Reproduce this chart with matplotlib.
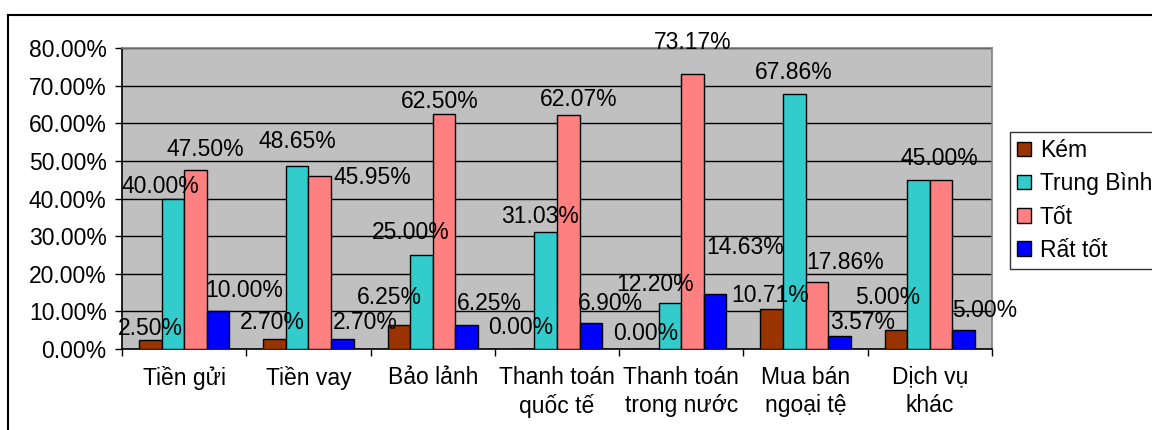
import matplotlib.pyplot as plt
from matplotlib.lines import Line2D
import numpy as np

plt.rcParams['font.family'] = ['Liberation Sans', 'DejaVu Sans']

# Service categories and rating shares (percent)
categories = ['Tiền gửi', 'Tiền vay', 'Bảo lảnh', 'Thanh toán\nquốc tế',
              'Thanh toán\ntrong nước', 'Mua bán\nngoại tệ', 'Dịch vụ\nkhác']
series_names = ['Kém', 'Trung Bình', 'Tốt', 'Rất tốt']
kem = [2.50, 2.70, 6.25, 0.00, 0.00, 10.71, 5.00]
trung_binh = [40.00, 48.65, 25.00, 31.03, 12.20, 67.86, 45.00]
tot = [47.50, 45.95, 62.50, 62.07, 73.17, 17.86, 45.00]
rat_tot = [10.00, 2.70, 6.25, 6.90, 14.63, 3.57, 5.00]
y_ticks = [0, 10, 20, 30, 40, 50, 60, 70, 80]

colors = ['#993300', '#33CCCC', '#FF8080', '#0000FF']
FS = 16.5

# Where each value label sits relative to the top of its bar (pixels: right, up)
label_offsets = [
    [(0, 11), (-2, 16), (-9, 28), (-2, 22), (-2, 16), (-2, 13), (-8, 33)],
    [(-12, 12), (0, 24), (-11, 22), (-6, 16), (-15, 19), (-1, 21), (21, 21)],
    [(10, 21), (53, -1), (-4, 12), (10, 16), (0, 31), (28, 19), (-1, 21)],
    [(26, 21), (23, 16), (23, 22), (20, 20), (30, 46), (23, 13), (21, 20)],
]

W, H = 1152, 430
fig = plt.figure(figsize=(W / 100, H / 100), dpi=100)
ax = fig.add_axes([122 / W, 1 - 349 / H, 870 / W, 301 / H])
ax.set_facecolor('#C0C0C0')

n = len(categories)
x = np.arange(n)
bar_w = 1 / 5.5
values = [kem, trung_binh, tot, rat_tot]
ax.set_xlim(0, n)
ax.set_ylim(0, 80)

placed = set()
for k, (vals, c, name) in enumerate(zip(values, colors, series_names)):
    pos = x + 0.5 + (k - 1.5) * bar_w
    ax.bar(pos, vals, width=bar_w, color=c, edgecolor='black',
           linewidth=1.0, label=name, zorder=3)
    for xi, v, off in zip(pos, vals, label_offsets[k]):
        text = f'{v:.2f}%'
        px, py = ax.transData.transform((xi, v))
        key = (text, round(px + off[0]), round(py + off[1]))
        if key in placed:
            # identical label already drawn at this spot
            continue
        placed.add(key)
        ax.annotate(text, (xi, v), xytext=off, textcoords='offset pixels',
                    ha='center', va='center', fontsize=FS, color='black',
                    zorder=5, annotation_clip=False)

ax.set_yticks(y_ticks)
ax.set_yticklabels([f'{t:.2f}%' for t in y_ticks], fontsize=FS)
ax.yaxis.grid(True, color='black', linewidth=1.0, zorder=0)
ax.set_axisbelow(True)
ax.tick_params(axis='y', length=5, width=1, pad=6, direction='out')

# category boundaries as ticks, names centred between them
ax.set_xticks(np.arange(n + 1))
ax.set_xticklabels([])
ax.set_xticks(x + 0.5, minor=True)
ax.set_xticklabels(categories, minor=True, fontsize=FS, linespacing=1.3)
ax.tick_params(axis='x', which='major', length=5, width=1, direction='out')
ax.tick_params(axis='x', which='minor', length=0, pad=12)

for side in ['left', 'bottom']:
    ax.spines[side].set_color('black')
    ax.spines[side].set_linewidth(1.2)
for side in ['top', 'right']:
    ax.spines[side].set_color('#808080')
    ax.spines[side].set_linewidth(1.2)

handles, labels = ax.get_legend_handles_labels()
leg = fig.legend(handles, labels, loc='upper left',
                 bbox_to_anchor=(1010 / W, 1 - 132 / H), borderaxespad=0,
                 fontsize=FS, frameon=True, fancybox=False,
                 handlelength=0.6, handleheight=0.6, handletextpad=0.4,
                 labelspacing=0.45, borderpad=0.3)
leg.get_frame().set_edgecolor('black')
leg.get_frame().set_linewidth(1.0)

# outer chart border
fig.add_artist(Line2D([8 / W, 8 / W], [0, 1 - 15 / H], color='black',
                      linewidth=1.5, transform=fig.transFigure))
fig.add_artist(Line2D([8 / W, 1], [1 - 15 / H, 1 - 15 / H], color='black',
                      linewidth=1.5, transform=fig.transFigure))

fig.savefig('out.png', dpi=100)
